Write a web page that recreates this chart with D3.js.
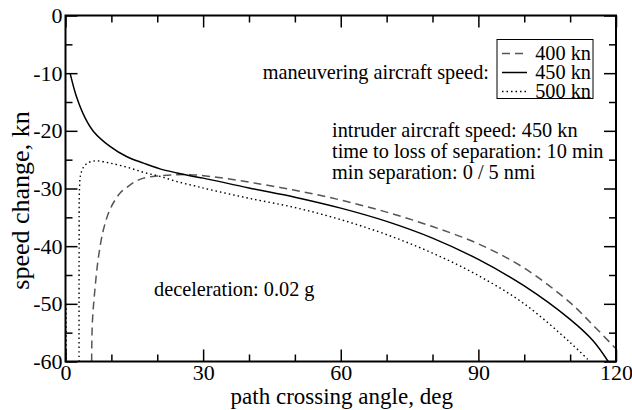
<!DOCTYPE html>
<html>
<head>
<meta charset="utf-8">
<script src="https://cdn.jsdelivr.net/npm/d3@7"></script>
<style>
  html, body { margin: 0; padding: 0; background: #fff; }
  svg { display: block; font-family: "Liberation Serif", "Times New Roman", serif; }
</style>
</head>
<body>
<div id="chart"></div>
<script>
// ---- data ----
const xTicksMajor = [0, 30, 60, 90, 120];
const xTicksMinor = [10, 20, 40, 50, 70, 80, 100, 110];
const yTicksMajor = [0, -10, -20, -30, -40, -50, -60];
const yTicksMinor = [-5, -15, -25, -35, -45, -55];

const seriesNames = ["400 kn", "450 kn", "500 kn"];

// 400 kn (dashed)
const angle400 = [5.7, 5.85, 6.4, 7.2, 8.25, 9.5, 10.8, 12, 13.4, 15, 17, 20.6, 24.3, 27.2, 31.5, 40, 50, 60, 70, 80, 90, 100, 110, 115, 120];
const speed400 = [-60, -53.3, -47.6, -41.8, -37.2, -34, -32.0, -30.7, -29.8, -28.9, -28.2, -27.8, -27.6, -27.6, -27.9, -28.9, -30.3, -32.0, -34.1, -36.6, -39.6, -43.8, -49.8, -53.7, -57.8];

// 450 kn (solid)
const angle450 = [1.0, 2.4, 4.3, 6.1, 9.7, 13.4, 17, 20.6, 24.3, 27.9, 30, 40, 50, 60, 70, 80, 90, 100, 110, 115, 118.3];
const speed450 = [-10, -14.1, -17.8, -20.1, -22.7, -24.5, -25.6, -26.6, -27.3, -27.9, -28.2, -29.9, -31.5, -33.4, -35.7, -38.6, -42.3, -46.9, -52.7, -56.4, -60];

// 500 kn (dotted), main branch
const angle500 = [2.95, 2.97, 3.05, 3.3, 4, 5, 6.8, 9.7, 13.4, 17, 20.6, 24.3, 27.9, 31.5, 40, 50, 60, 70, 80, 90, 100, 110, 114.3];
const speed500 = [-60, -40, -30, -27.6, -26.2, -25.5, -25.2, -25.6, -26.3, -27.2, -27.9, -28.8, -29.5, -30.2, -31.7, -33.3, -35.4, -38.0, -41.2, -45.1, -50.0, -56.7, -60];
// 500 kn (dotted), branch at the left edge
const angle500b = [0.15, 0.15];
const speed500b = [-50, -60];

const annotations = [
  "intruder aircraft speed: 450 kn",
  "time to loss of separation: 10 min",
  "min separation: 0 / 5 nmi"
];

// ---- layout ----
const W = 632, H = 410;
const L = 65.5, R = 616, T = 15.5, B = 361.5;
const FS = 20.3;

const svg = d3.select("#chart").append("svg").attr("width", W).attr("height", H);

const x = d3.scaleLinear().domain([0, 120]).range([L, R]);
const y = d3.scaleLinear().domain([0, -60]).range([T, B]);

svg.append("clipPath").attr("id", "clip")
  .append("rect").attr("x", L).attr("y", T).attr("width", R - L).attr("height", B - T);

const line = d3.line()
  .x(d => x(d[0])).y(d => y(d[1]))
  .curve(d3.curveCatmullRom.alpha(0.5));

const zip = (a, b) => a.map((v, i) => [v, b[i]]);

const styles = [
  { stroke: "#555", dash: "8,5", width: 1.5 },
  { stroke: "#000", dash: null, width: 1.5 },
  { stroke: "#000", dash: "1.5,3", width: 1.4 }
];

const g = svg.append("g").attr("clip-path", "url(#clip)");
const curves = [
  { pts: zip(angle400, speed400), s: styles[0] },
  { pts: zip(angle450, speed450), s: styles[1] },
  { pts: zip(angle500, speed500), s: styles[2] },
  { pts: zip(angle500b, speed500b), s: styles[2] }
];
curves.forEach(c => {
  g.append("path")
    .attr("d", line(c.pts))
    .attr("fill", "none")
    .attr("stroke", c.s.stroke)
    .attr("stroke-width", c.s.width)
    .attr("stroke-dasharray", c.s.dash);
});

// ---- axes ----
const fmt = d => String(d);
function styleAxis(sel) {
  sel.select(".domain").remove();
  sel.selectAll(".tick line").attr("stroke", "#000").attr("stroke-width", 1.5);
  sel.selectAll("text").attr("fill", "#000").attr("font-size", 22)
    .attr("font-family", "Liberation Serif, serif");
}
// bottom
svg.append("g").attr("transform", `translate(0,${B})`)
  .call(d3.axisBottom(x).tickValues(xTicksMajor).tickSize(-12).tickPadding(3).tickFormat(fmt))
  .call(styleAxis);
svg.append("g").attr("transform", `translate(0,${B})`)
  .call(d3.axisBottom(x).tickValues(xTicksMinor).tickSize(-7).tickFormat(""))
  .call(styleAxis);
// top
svg.append("g").attr("transform", `translate(0,${T})`)
  .call(d3.axisTop(x).tickValues(xTicksMajor).tickSize(-12).tickFormat(""))
  .call(styleAxis);
svg.append("g").attr("transform", `translate(0,${T})`)
  .call(d3.axisTop(x).tickValues(xTicksMinor).tickSize(-7).tickFormat(""))
  .call(styleAxis);
// left
svg.append("g").attr("transform", `translate(${L},0)`)
  .call(d3.axisLeft(y).tickValues(yTicksMajor).tickSize(-12).tickPadding(3).tickFormat(fmt))
  .call(styleAxis);
svg.append("g").attr("transform", `translate(${L},0)`)
  .call(d3.axisLeft(y).tickValues(yTicksMinor).tickSize(-7).tickFormat(""))
  .call(styleAxis);
// right
svg.append("g").attr("transform", `translate(${R},0)`)
  .call(d3.axisRight(y).tickValues(yTicksMajor).tickSize(-12).tickFormat(""))
  .call(styleAxis);
svg.append("g").attr("transform", `translate(${R},0)`)
  .call(d3.axisRight(y).tickValues(yTicksMinor).tickSize(-7).tickFormat(""))
  .call(styleAxis);

// frame
svg.append("rect").attr("x", L).attr("y", T).attr("width", R - L).attr("height", B - T)
  .attr("fill", "none").attr("stroke", "#000").attr("stroke-width", 2);

// axis titles
svg.append("text").attr("x", (L + R) / 2 + 1).attr("y", 404).attr("text-anchor", "middle")
  .attr("font-size", 23).text("path crossing angle, deg");
svg.append("text").attr("transform", `translate(29,${(T + B) / 2 + 12}) rotate(-90)`)
  .attr("text-anchor", "middle").attr("font-size", 26).text("speed change, kn");

// legend
const lg = svg.append("g");
lg.append("rect").attr("x", 497).attr("y", 39.5).attr("width", 96).attr("height", 59)
  .attr("fill", "#fff").attr("stroke", "#000").attr("stroke-width", 1);
seriesNames.forEach((name, i) => {
  const cy = 53.5 + i * 19;
  lg.append("line").attr("x1", 502).attr("x2", 527).attr("y1", cy).attr("y2", cy)
    .attr("stroke", styles[i].stroke).attr("stroke-width", styles[i].width)
    .attr("stroke-dasharray", styles[i].dash);
  lg.append("text").attr("x", 591).attr("y", cy + 6).attr("text-anchor", "end")
    .attr("font-size", FS).text(name);
});
svg.append("text").attr("x", 489).attr("y", 79).attr("text-anchor", "end")
  .attr("font-size", FS).text("maneuvering aircraft speed:");

annotations.forEach((t, i) => {
  svg.append("text").attr("x", 332).attr("y", 137 + i * 21).attr("font-size", FS).text(t);
});
svg.append("text").attr("x", 154).attr("y", 296).attr("font-size", FS).text("deceleration: 0.02 g");
</script>
</body>
</html>
